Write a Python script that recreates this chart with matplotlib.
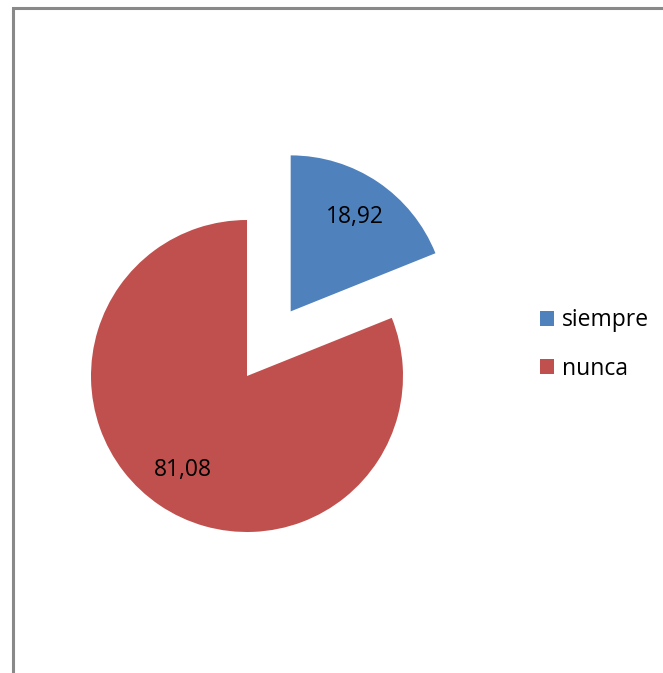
import matplotlib.pyplot as plt
from matplotlib.patches import Rectangle

labels = ['siempre', 'nunca']
values = [18.92, 81.08]
colors = ['#4F81BD', '#C0504D']
explode = [0.5, 0.0]

W, H = 663, 673
fig = plt.figure(figsize=(W / 100, H / 100), dpi=100)
plt.rcParams['font.family'] = ['Open Sans', 'DejaVu Sans']

# pie centre (247, 376) px, radius 156 px
cx, cy, R = 247, 376, 156
lo, hi = -1.05, 1.6
ax = fig.add_axes([(cx + lo * R) / W, (H - (cy - lo * R)) / H,
                   (hi - lo) * R / W, (hi - lo) * R / H])
wedges, texts, autotexts = ax.pie(
    values, explode=explode, colors=colors, startangle=90, counterclock=False,
    autopct=lambda p: ('%.2f' % p).replace('.', ','), pctdistance=0.73,
    wedgeprops={'linewidth': 0},
    textprops={'fontsize': 16.5, 'color': 'black'})
ax.set_xlim(lo, hi)
ax.set_ylim(lo, hi)
ax.set_aspect('equal')
ax.axis('off')

fig.legend(wedges, labels, loc='center left',
           bbox_to_anchor=(540 / W, 1 - 344.5 / H),
           frameon=False, fontsize=16.5, handlelength=0.6, handleheight=0.6,
           handletextpad=0.35, labelspacing=1.05, borderpad=0, borderaxespad=0)

# chart area border (cropped at right and bottom)
fig.patches.append(Rectangle((12.5 / W, -0.05), 1.2, (H - 8.5) / H + 0.05,
                             transform=fig.transFigure, fill=False,
                             edgecolor='#898989', linewidth=2.2))

plt.savefig('out.png', dpi=100)
